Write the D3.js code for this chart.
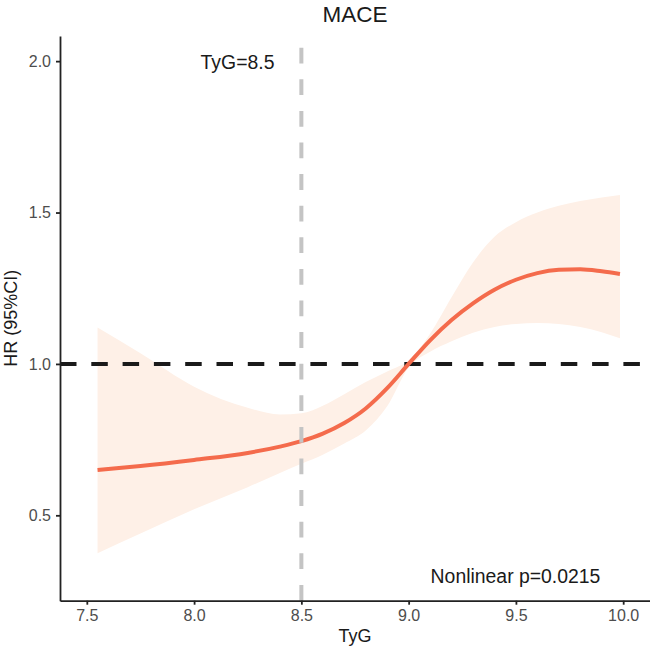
<!DOCTYPE html>
<html>
<head>
<meta charset="utf-8">
<script src="https://cdn.jsdelivr.net/npm/d3@7"></script>
<style>
  body { margin: 0; background: #fff; }
  text { font-family: "Liberation Sans", Arial, sans-serif; }
</style>
</head>
<body>
<svg width="650" height="650"></svg>
<script>
// spline estimate
var tyg   = [7.55, 7.75, 8.0, 8.25, 8.4, 8.5, 8.6, 8.7, 8.8, 8.9, 9.0, 9.1, 9.2, 9.3, 9.4, 9.5, 9.6, 9.7, 9.8, 9.9, 9.985];
var hr    = [0.650, 0.663, 0.683, 0.706, 0.727, 0.745, 0.770, 0.805, 0.853, 0.920, 1.000, 1.078, 1.145, 1.200, 1.245, 1.278, 1.300, 1.311, 1.313, 1.306, 1.297];
var upper = [1.120, 1.035, 0.925, 0.855, 0.833, 0.837, 0.862, 0.900, 0.940, 0.975, 1.012, 1.100, 1.220, 1.335, 1.420, 1.468, 1.500, 1.522, 1.538, 1.550, 1.558];
var lower = [0.375, 0.440, 0.520, 0.593, 0.640, 0.670, 0.700, 0.737, 0.780, 0.860, 0.988, 1.040, 1.075, 1.103, 1.122, 1.132, 1.135, 1.132, 1.122, 1.105, 1.085];

var xTicks = [7.5, 8.0, 8.5, 9.0, 9.5, 10.0];
var yTicks = [0.5, 1.0, 1.5, 2.0];
var cutoff = 8.5;
var refHR = 1;

var svg = d3.select("svg");
var pLeft = 60, pRight = 650, pTop = 36, pBottom = 600.7;

var x = d3.scaleLinear().domain([7.375, 10.125]).range([pLeft, pRight]);
var y = d3.scaleLinear().domain([0.218, 2.083]).range([pBottom, pTop]);

var pts = tyg.map(function(d, i) { return {x: d, hr: hr[i], lo: lower[i], hi: upper[i]}; });

// ribbon
svg.append("path")
    .attr("d", d3.area()
        .x(function(d) { return x(d.x); })
        .y0(function(d) { return y(d.lo); })
        .y1(function(d) { return y(d.hi); })
        .curve(d3.curveMonotoneX)(pts))
    .attr("fill", "#fef0e7");

// reference line HR = 1
svg.append("line")
    .attr("x1", pLeft).attr("x2", pRight)
    .attr("y1", y(refHR)).attr("y2", y(refHR))
    .attr("stroke", "#1a1a1a")
    .attr("stroke-width", 4)
    .attr("stroke-dasharray", "16.5,14.8");

// curve
svg.append("path")
    .attr("d", d3.line()
        .x(function(d) { return x(d.x); })
        .y(function(d) { return y(d.hr); })
        .curve(d3.curveMonotoneX)(pts))
    .attr("fill", "none")
    .attr("stroke", "#f46b4c")
    .attr("stroke-width", 4);

// cutoff line, drawn from the bottom up
svg.append("line")
    .attr("x1", x(cutoff)).attr("x2", x(cutoff))
    .attr("y1", pBottom).attr("y2", pTop)
    .attr("stroke", "#c4c4c4")
    .attr("stroke-width", 4)
    .attr("stroke-dasharray", "15.8,15.8");

// axes
var ax = svg.append("g")
    .attr("transform", "translate(0," + pBottom + ")")
    .call(d3.axisBottom(x).tickValues(xTicks).tickFormat(d3.format(".1f")).tickSize(4).tickSizeOuter(0));
var ay = svg.append("g")
    .attr("transform", "translate(" + pLeft + ",0)")
    .call(d3.axisLeft(y).tickValues(yTicks).tickFormat(d3.format(".1f")).tickSize(4).tickSizeOuter(0));

[ax, ay].forEach(function(a) {
    a.attr("font-size", null).attr("font-family", null);
    a.select(".domain").attr("stroke", "#222").attr("stroke-width", 1.8);
    a.selectAll(".tick line").attr("stroke", "#222").attr("stroke-width", 1.8);
    a.selectAll(".tick text")
        .attr("fill", "#4d4d4d")
        .style("font-size", "16px");
});
ax.selectAll(".tick text").attr("y", 9);
ay.selectAll(".tick text").attr("x", -9);

// titles and notes
svg.append("text")
    .attr("x", (pLeft + pRight) / 2).attr("y", 22)
    .attr("text-anchor", "middle")
    .style("font-size", "22.5px")
    .attr("fill", "#1a1a1a")
    .text("MACE");

svg.append("text")
    .attr("x", (pLeft + pRight) / 2).attr("y", 642)
    .attr("text-anchor", "middle")
    .style("font-size", "18px")
    .attr("fill", "#1a1a1a")
    .text("TyG");

svg.append("text")
    .attr("transform", "translate(" + 17 + "," + (pTop + pBottom) / 2 + ") rotate(-90)")
    .attr("text-anchor", "middle")
    .style("font-size", "18px")
    .attr("fill", "#1a1a1a")
    .text("HR (95%CI)");

svg.append("text")
    .attr("x", 237.5).attr("y", 69)
    .attr("text-anchor", "middle")
    .style("font-size", "19.4px")
    .attr("fill", "#1a1a1a")
    .text("TyG=8.5");

svg.append("text")
    .attr("x", 515.5).attr("y", 583)
    .attr("text-anchor", "middle")
    .style("font-size", "19.4px")
    .attr("fill", "#1a1a1a")
    .text("Nonlinear p=0.0215");
</script>
</body>
</html>
